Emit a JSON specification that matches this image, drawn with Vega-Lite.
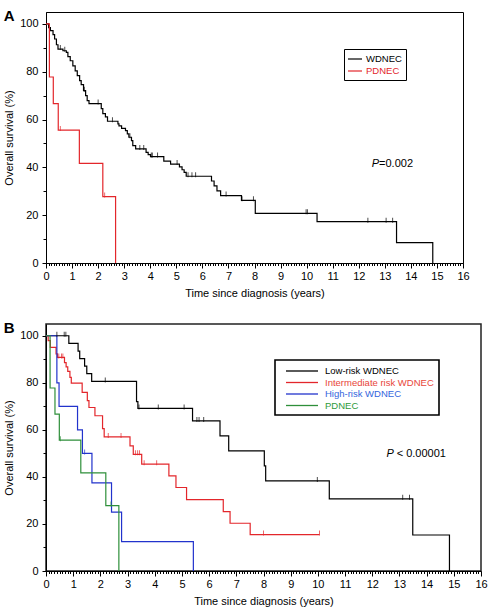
{
  "$schema": "https://vega.github.io/schema/vega-lite/v6.json",
  "padding": {"left": 2, "top": 8, "right": 4, "bottom": 0},
  "background": "white",
  "datasets": {
    "a_curves": [
      {"g": "WDNEC", "t": 0, "s": 100},
      {"g": "WDNEC", "t": 0.10, "s": 98.5},
      {"g": "WDNEC", "t": 0.17, "s": 97.2},
      {"g": "WDNEC", "t": 0.27, "s": 95.5},
      {"g": "WDNEC", "t": 0.33, "s": 93.7},
      {"g": "WDNEC", "t": 0.40, "s": 91.3},
      {"g": "WDNEC", "t": 0.46, "s": 89.5},
      {"g": "WDNEC", "t": 0.65, "s": 88.8},
      {"g": "WDNEC", "t": 0.78, "s": 88.1},
      {"g": "WDNEC", "t": 0.84, "s": 86.3},
      {"g": "WDNEC", "t": 0.93, "s": 84.6},
      {"g": "WDNEC", "t": 1.03, "s": 82.5},
      {"g": "WDNEC", "t": 1.12, "s": 80.4},
      {"g": "WDNEC", "t": 1.20, "s": 78.4},
      {"g": "WDNEC", "t": 1.29, "s": 76.3},
      {"g": "WDNEC", "t": 1.35, "s": 74.6},
      {"g": "WDNEC", "t": 1.44, "s": 72.1},
      {"g": "WDNEC", "t": 1.52, "s": 70.0},
      {"g": "WDNEC", "t": 1.58, "s": 67.9},
      {"g": "WDNEC", "t": 1.65, "s": 66.7},
      {"g": "WDNEC", "t": 2.12, "s": 64.6},
      {"g": "WDNEC", "t": 2.18, "s": 62.5},
      {"g": "WDNEC", "t": 2.28, "s": 61.1},
      {"g": "WDNEC", "t": 2.36, "s": 59.3},
      {"g": "WDNEC", "t": 2.76, "s": 58.2},
      {"g": "WDNEC", "t": 2.80, "s": 57.4},
      {"g": "WDNEC", "t": 2.90, "s": 56.3},
      {"g": "WDNEC", "t": 3.05, "s": 55.4},
      {"g": "WDNEC", "t": 3.12, "s": 54.0},
      {"g": "WDNEC", "t": 3.18, "s": 52.6},
      {"g": "WDNEC", "t": 3.28, "s": 51.2},
      {"g": "WDNEC", "t": 3.33, "s": 49.1},
      {"g": "WDNEC", "t": 3.44, "s": 47.7},
      {"g": "WDNEC", "t": 3.84, "s": 46.3},
      {"g": "WDNEC", "t": 3.92, "s": 45.3},
      {"g": "WDNEC", "t": 4.01, "s": 44.5},
      {"g": "WDNEC", "t": 4.52, "s": 42.6},
      {"g": "WDNEC", "t": 4.78, "s": 41.4},
      {"g": "WDNEC", "t": 5.12, "s": 40.2},
      {"g": "WDNEC", "t": 5.22, "s": 39.0},
      {"g": "WDNEC", "t": 5.30, "s": 37.9},
      {"g": "WDNEC", "t": 5.38, "s": 36.3},
      {"g": "WDNEC", "t": 6.35, "s": 34.3},
      {"g": "WDNEC", "t": 6.45, "s": 32.3},
      {"g": "WDNEC", "t": 6.56, "s": 30.2},
      {"g": "WDNEC", "t": 6.70, "s": 28.2},
      {"g": "WDNEC", "t": 7.50, "s": 26.2},
      {"g": "WDNEC", "t": 8.03, "s": 20.8},
      {"g": "WDNEC", "t": 10.40, "s": 17.3},
      {"g": "WDNEC", "t": 13.45, "s": 8.5},
      {"g": "WDNEC", "t": 14.84, "s": 0},
      {"g": "PDNEC", "t": 0, "s": 100},
      {"g": "PDNEC", "t": 0.13, "s": 77.8},
      {"g": "PDNEC", "t": 0.28, "s": 66.7},
      {"g": "PDNEC", "t": 0.47, "s": 55.6},
      {"g": "PDNEC", "t": 1.28, "s": 41.7},
      {"g": "PDNEC", "t": 2.18, "s": 27.8},
      {"g": "PDNEC", "t": 2.67, "s": 0}
    ],
    "a_censor": [
      {"g": "WDNEC", "t": 0.55, "s": 89.5},
      {"g": "WDNEC", "t": 0.72, "s": 88.8},
      {"g": "WDNEC", "t": 1.47, "s": 72.1},
      {"g": "WDNEC", "t": 2.00, "s": 66.7},
      {"g": "WDNEC", "t": 2.55, "s": 59.3},
      {"g": "WDNEC", "t": 3.22, "s": 52.6},
      {"g": "WDNEC", "t": 3.60, "s": 47.7},
      {"g": "WDNEC", "t": 3.75, "s": 47.7},
      {"g": "WDNEC", "t": 4.04, "s": 44.5},
      {"g": "WDNEC", "t": 4.08, "s": 44.5},
      {"g": "WDNEC", "t": 4.28, "s": 44.5},
      {"g": "WDNEC", "t": 5.03, "s": 41.4},
      {"g": "WDNEC", "t": 5.45, "s": 36.3},
      {"g": "WDNEC", "t": 5.60, "s": 36.3},
      {"g": "WDNEC", "t": 5.74, "s": 36.3},
      {"g": "WDNEC", "t": 6.91, "s": 28.2},
      {"g": "WDNEC", "t": 7.52, "s": 26.2},
      {"g": "WDNEC", "t": 7.96, "s": 26.2},
      {"g": "WDNEC", "t": 9.98, "s": 20.8},
      {"g": "WDNEC", "t": 10.03, "s": 20.8},
      {"g": "WDNEC", "t": 12.35, "s": 17.3},
      {"g": "WDNEC", "t": 13.05, "s": 17.3},
      {"g": "WDNEC", "t": 13.30, "s": 17.3},
      {"g": "PDNEC", "t": 0.55, "s": 55.6},
      {"g": "PDNEC", "t": 2.25, "s": 27.8}
    ],
    "b_curves": [
      {"g": "Low-risk WDNEC", "t": 0, "s": 100},
      {"g": "Low-risk WDNEC", "t": 0.84, "s": 96.8},
      {"g": "Low-risk WDNEC", "t": 1.18, "s": 93.5},
      {"g": "Low-risk WDNEC", "t": 1.24, "s": 90.3},
      {"g": "Low-risk WDNEC", "t": 1.42, "s": 87.1},
      {"g": "Low-risk WDNEC", "t": 1.50, "s": 83.9},
      {"g": "Low-risk WDNEC", "t": 1.68, "s": 80.6},
      {"g": "Low-risk WDNEC", "t": 3.33, "s": 72.0},
      {"g": "Low-risk WDNEC", "t": 3.38, "s": 69.1},
      {"g": "Low-risk WDNEC", "t": 5.39, "s": 63.8},
      {"g": "Low-risk WDNEC", "t": 6.40, "s": 57.4},
      {"g": "Low-risk WDNEC", "t": 6.72, "s": 51.1},
      {"g": "Low-risk WDNEC", "t": 8.03, "s": 44.7},
      {"g": "Low-risk WDNEC", "t": 8.08, "s": 38.3},
      {"g": "Low-risk WDNEC", "t": 10.42, "s": 30.7},
      {"g": "Low-risk WDNEC", "t": 13.49, "s": 15.3},
      {"g": "Low-risk WDNEC", "t": 14.84, "s": 0},
      {"g": "Intermediate risk WDNEC", "t": 0, "s": 100},
      {"g": "Intermediate risk WDNEC", "t": 0.08, "s": 97.9},
      {"g": "Intermediate risk WDNEC", "t": 0.16, "s": 95.1},
      {"g": "Intermediate risk WDNEC", "t": 0.37, "s": 92.3},
      {"g": "Intermediate risk WDNEC", "t": 0.42, "s": 90.8},
      {"g": "Intermediate risk WDNEC", "t": 0.68, "s": 88.6},
      {"g": "Intermediate risk WDNEC", "t": 0.74, "s": 86.8},
      {"g": "Intermediate risk WDNEC", "t": 0.80, "s": 84.9},
      {"g": "Intermediate risk WDNEC", "t": 0.88, "s": 82.3},
      {"g": "Intermediate risk WDNEC", "t": 0.93, "s": 79.9},
      {"g": "Intermediate risk WDNEC", "t": 1.33, "s": 75.9},
      {"g": "Intermediate risk WDNEC", "t": 1.52, "s": 72.4},
      {"g": "Intermediate risk WDNEC", "t": 1.58, "s": 69.5},
      {"g": "Intermediate risk WDNEC", "t": 1.80, "s": 66.0},
      {"g": "Intermediate risk WDNEC", "t": 2.08, "s": 60.5},
      {"g": "Intermediate risk WDNEC", "t": 2.14, "s": 57.0},
      {"g": "Intermediate risk WDNEC", "t": 3.09, "s": 53.2},
      {"g": "Intermediate risk WDNEC", "t": 3.21, "s": 49.6},
      {"g": "Intermediate risk WDNEC", "t": 3.52, "s": 45.4},
      {"g": "Intermediate risk WDNEC", "t": 4.52, "s": 40.4},
      {"g": "Intermediate risk WDNEC", "t": 4.78, "s": 35.5},
      {"g": "Intermediate risk WDNEC", "t": 5.17, "s": 30.3},
      {"g": "Intermediate risk WDNEC", "t": 6.52, "s": 25.2},
      {"g": "Intermediate risk WDNEC", "t": 6.77, "s": 20.3},
      {"g": "Intermediate risk WDNEC", "t": 7.51, "s": 15.5},
      {"g": "Intermediate risk WDNEC", "t": 10.06, "s": 15.5},
      {"g": "High-risk WDNEC", "t": 0, "s": 100},
      {"g": "High-risk WDNEC", "t": 0.40, "s": 80},
      {"g": "High-risk WDNEC", "t": 0.48, "s": 70},
      {"g": "High-risk WDNEC", "t": 1.16, "s": 60},
      {"g": "High-risk WDNEC", "t": 1.34, "s": 50},
      {"g": "High-risk WDNEC", "t": 1.69, "s": 37.5},
      {"g": "High-risk WDNEC", "t": 2.41, "s": 25},
      {"g": "High-risk WDNEC", "t": 2.78, "s": 12.5},
      {"g": "High-risk WDNEC", "t": 5.42, "s": 0},
      {"g": "PDNEC", "t": 0, "s": 100},
      {"g": "PDNEC", "t": 0.15, "s": 77.8},
      {"g": "PDNEC", "t": 0.33, "s": 66.7},
      {"g": "PDNEC", "t": 0.49, "s": 55.6},
      {"g": "PDNEC", "t": 1.28, "s": 41.7},
      {"g": "PDNEC", "t": 2.20, "s": 27.8},
      {"g": "PDNEC", "t": 2.68, "s": 0}
    ],
    "b_censor": [
      {"g": "Low-risk WDNEC", "t": 0.40, "s": 100},
      {"g": "Low-risk WDNEC", "t": 0.67, "s": 100},
      {"g": "Low-risk WDNEC", "t": 0.73, "s": 100},
      {"g": "Low-risk WDNEC", "t": 2.18, "s": 80.6},
      {"g": "Low-risk WDNEC", "t": 3.42, "s": 69.1},
      {"g": "Low-risk WDNEC", "t": 4.13, "s": 69.1},
      {"g": "Low-risk WDNEC", "t": 5.08, "s": 69.1},
      {"g": "Low-risk WDNEC", "t": 5.55, "s": 63.8},
      {"g": "Low-risk WDNEC", "t": 5.63, "s": 63.8},
      {"g": "Low-risk WDNEC", "t": 5.80, "s": 63.8},
      {"g": "Low-risk WDNEC", "t": 9.98, "s": 38.3},
      {"g": "Low-risk WDNEC", "t": 13.12, "s": 30.7},
      {"g": "Low-risk WDNEC", "t": 13.37, "s": 30.7},
      {"g": "Intermediate risk WDNEC", "t": 0.47, "s": 90.8},
      {"g": "Intermediate risk WDNEC", "t": 0.57, "s": 90.8},
      {"g": "Intermediate risk WDNEC", "t": 0.62, "s": 90.8},
      {"g": "Intermediate risk WDNEC", "t": 2.29, "s": 57.0},
      {"g": "Intermediate risk WDNEC", "t": 2.76, "s": 57.0},
      {"g": "Intermediate risk WDNEC", "t": 3.29, "s": 49.6},
      {"g": "Intermediate risk WDNEC", "t": 3.37, "s": 49.6},
      {"g": "Intermediate risk WDNEC", "t": 3.44, "s": 49.6},
      {"g": "Intermediate risk WDNEC", "t": 3.61, "s": 45.4},
      {"g": "Intermediate risk WDNEC", "t": 4.07, "s": 45.4},
      {"g": "Intermediate risk WDNEC", "t": 8.00, "s": 15.5},
      {"g": "Intermediate risk WDNEC", "t": 10.06, "s": 15.5},
      {"g": "High-risk WDNEC", "t": 1.42, "s": 50},
      {"g": "PDNEC", "t": 0.53, "s": 55.6},
      {"g": "PDNEC", "t": 2.39, "s": 27.8}
    ]
  },
  "vconcat": [
    {
      "title": {"text": "A", "anchor": "start", "frame": "bounds", "baseline": "top", "offset": -12, "fontSize": 15, "fontWeight": "bold", "font": "Liberation Sans", "color": "#000"},
      "width": 417,
      "height": 251,
      "view": {"stroke": "#000", "strokeWidth": 1},
      "layer": [
        {
          "data": {"name": "a_curves"},
          "mark": {"type": "line", "interpolate": "step-after", "strokeWidth": 1.2},
          "encoding": {
            "x": {"field": "t", "type": "quantitative", "scale": {"domain": [0, 16], "nice": false, "zero": false},
                  "axis": {"tickCount": 160, "labelExpr": "datum.value % 1 === 0 ? format(datum.value, 'd') : ''", "title": "Time since diagnosis (years)", "tickSize": {"condition": {"test": "datum.value % 1 === 0", "value": 5}, "value": 2.5}, "labelPadding": 2, "titlePadding": 6}},
            "y": {"field": "s", "type": "quantitative", "scale": {"domain": [0, 105], "nice": false},
                  "axis": {"tickCount": 10, "labelExpr": "datum.value % 20 === 0 ? format(datum.value, 'd') : ''", "title": "Overall survival (%)", "tickSize": {"condition": {"test": "datum.value % 20 === 0", "value": 4}, "value": 3}, "labelPadding": 4, "titlePadding": 5}},
            "color": {"field": "g", "type": "nominal",
                      "scale": {"domain": ["WDNEC", "PDNEC"], "range": ["#000000", "#e3262b"]},
                      "legend": {"title": null, "orient": "none", "legendX": 298, "legendY": 37,
                                 "symbolType": "M-1.4,0H1.4", "symbolSize": 100, "symbolStrokeWidth": 1.2,
                                 "symbolOffset": 1, "labelOffset": 5, "padding": 4, "rowPadding": 1,
                                 "labelFontSize": 9.5, "strokeColor": "#000", "fillColor": "#fff",
                                 "encode": {"labels": {"update": {"fill": {"signal": "datum.label == 'PDNEC' ? '#e3262b' : '#000000'"}}}}}}
          }
        },
        {
          "data": {"name": "a_censor"},
          "mark": {"type": "tick", "orient": "vertical", "size": 5, "thickness": 1, "yOffset": -1.5},
          "encoding": {
            "x": {"field": "t", "type": "quantitative"},
            "y": {"field": "s", "type": "quantitative"},
            "color": {"field": "g", "type": "nominal", "legend": null}
          }
        },
        {
          "data": {"values": [{}]},
          "mark": {"type": "text", "text": "P", "fontStyle": "italic", "align": "left", "baseline": "middle", "fontSize": 11, "font": "Liberation Sans", "color": "#000"},
          "encoding": {"x": {"datum": 12.5, "type": "quantitative"}, "y": {"datum": 41.4, "type": "quantitative"}}
        },
        {
          "data": {"values": [{}]},
          "mark": {"type": "text", "text": "=0.002", "align": "left", "baseline": "middle", "fontSize": 11, "font": "Liberation Sans", "color": "#000"},
          "encoding": {"x": {"datum": 12.78, "type": "quantitative"}, "y": {"datum": 41.4, "type": "quantitative"}}
        }
      ]
    },
    {
      "title": {"text": "B", "anchor": "start", "frame": "bounds", "baseline": "top", "offset": -12, "fontSize": 15, "fontWeight": "bold", "font": "Liberation Sans", "color": "#000"},
      "width": 435,
      "height": 247,
      "view": {"stroke": "#222", "strokeWidth": 1.5},
      "layer": [
        {
          "data": {"name": "b_curves"},
          "mark": {"type": "line", "interpolate": "step-after", "strokeWidth": 1.2},
          "encoding": {
            "x": {"field": "t", "type": "quantitative", "scale": {"domain": [0, 16], "nice": false, "zero": false},
                  "axis": {"tickCount": 160, "labelExpr": "datum.value % 1 === 0 ? format(datum.value, 'd') : ''", "title": "Time since diagnosis (years)", "tickSize": {"condition": {"test": "datum.value % 1 === 0", "value": 5}, "value": 2.5}, "labelPadding": 2, "titlePadding": 6}},
            "y": {"field": "s", "type": "quantitative", "scale": {"domain": [0, 105], "nice": false},
                  "axis": {"tickCount": 10, "labelExpr": "datum.value % 20 === 0 ? format(datum.value, 'd') : ''", "title": "Overall survival (%)", "tickSize": {"condition": {"test": "datum.value % 20 === 0", "value": 4}, "value": 3}, "labelPadding": 4, "titlePadding": 5}},
            "color": {"field": "g", "type": "nominal",
                      "scale": {"domain": ["Low-risk WDNEC", "Intermediate risk WDNEC", "High-risk WDNEC", "PDNEC"], "range": ["#000000", "#e3262b", "#2233cc", "#2e8f3a"]},
                      "legend": {"title": null, "orient": "none", "legendX": 229, "legendY": 36,
                                 "symbolType": "M-3.2,0H3.2", "symbolSize": 100, "symbolStrokeWidth": 1.3,
                                 "symbolOffset": 16, "labelOffset": 17, "padding": 5, "rowPadding": 0.5,
                                 "labelFontSize": 9.5, "strokeColor": "#000", "fillColor": "#fff",
                                 "encode": {"legend": {"update": {"strokeWidth": {"value": 1.6}}},
                                            "labels": {"update": {"fill": {"signal": "datum.label == 'Intermediate risk WDNEC' ? '#e8453a' : datum.label == 'High-risk WDNEC' ? '#3366dd' : datum.label == 'PDNEC' ? '#2e9a3a' : '#000000'"}}}}}}
          }
        },
        {
          "data": {"name": "b_censor"},
          "mark": {"type": "tick", "orient": "vertical", "size": 5, "thickness": 1, "yOffset": -1.5},
          "encoding": {
            "x": {"field": "t", "type": "quantitative"},
            "y": {"field": "s", "type": "quantitative"},
            "color": {"field": "g", "type": "nominal", "legend": null}
          }
        },
        {
          "data": {"values": [{}]},
          "mark": {"type": "text", "text": "P", "fontStyle": "italic", "align": "left", "baseline": "middle", "fontSize": 11, "font": "Liberation Sans", "color": "#000"},
          "encoding": {"x": {"datum": 12.52, "type": "quantitative"}, "y": {"datum": 49.7, "type": "quantitative"}}
        },
        {
          "data": {"values": [{}]},
          "mark": {"type": "text", "text": "< 0.00001", "align": "left", "baseline": "middle", "fontSize": 11, "font": "Liberation Sans", "color": "#000"},
          "encoding": {"x": {"datum": 12.9, "type": "quantitative"}, "y": {"datum": 49.7, "type": "quantitative"}}
        }
      ]
    }
  ],
  "spacing": 21,
  "resolve": {"scale": {"color": "independent", "x": "independent", "y": "independent"}, "legend": {"color": "independent"}},
  "config": {
    "font": "Liberation Sans",
    "view": {"stroke": "#000"},
    "axis": {
      "grid": false,
      "domainColor": "#000",
      "domainWidth": 1,
      "tickColor": "#000",
      "tickWidth": 1,
      "labelColor": "#000",
      "titleColor": "#000",
      "labelFont": "Liberation Sans",
      "titleFont": "Liberation Sans",
      "labelFontSize": 11,
      "titleFontSize": 11,
      "titleFontWeight": "normal",
      "labelFlush": false,
      "labelOverlap": false,
      "labelBound": false
    },
    "legend": {"labelFont": "Liberation Sans", "labelColor": "#000"}
  }
}
